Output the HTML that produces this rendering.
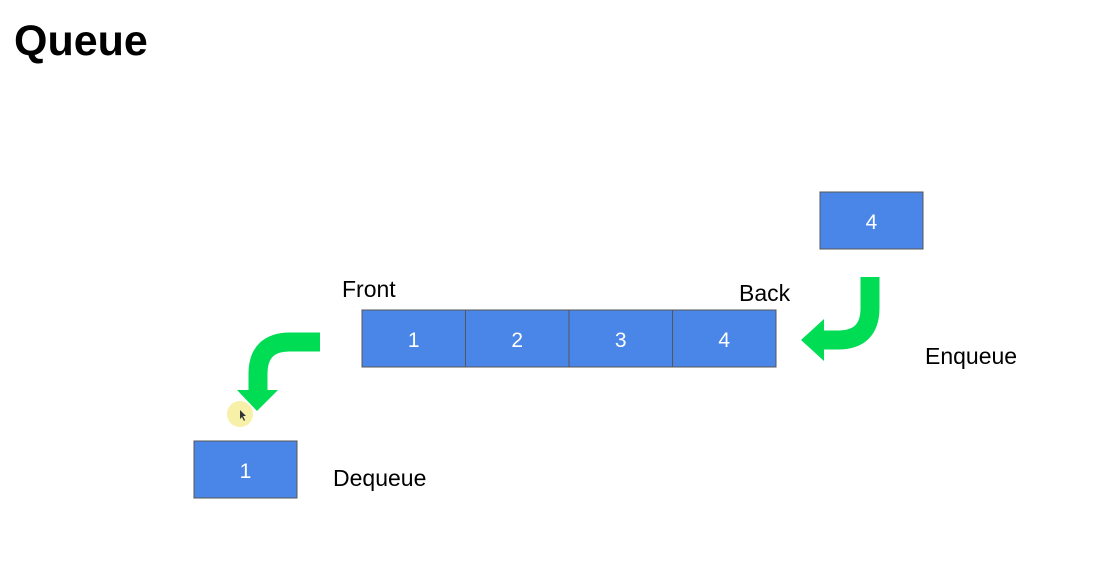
<!DOCTYPE html>
<html><head><style>
body{margin:0;width:1104px;height:583px;background:#fff;overflow:hidden;font-family:"Liberation Sans",sans-serif;}
</style></head><body>
<svg width="1104" height="583" xmlns="http://www.w3.org/2000/svg">
<text x="14" y="55" font-size="43" font-weight="bold" font-family="Liberation Sans">Queue</text>
<g font-family="Liberation Sans" font-size="21" fill="#fff" text-anchor="middle">
<g><rect x="362" y="310" width="103.5" height="57" fill="#4a86e8" stroke="#555"/><text x="413.75" y="347">1</text></g>
<g><rect x="465.5" y="310" width="103.5" height="57" fill="#4a86e8" stroke="#555"/><text x="517.25" y="347">2</text></g>
<g><rect x="569" y="310" width="103.5" height="57" fill="#4a86e8" stroke="#555"/><text x="620.75" y="347">3</text></g>
<g><rect x="672.5" y="310" width="103.5" height="57" fill="#4a86e8" stroke="#555"/><text x="724.25" y="347">4</text></g>
<g><rect x="820" y="192" width="103" height="57" fill="#4a86e8" stroke="#555"/><text x="871.5" y="229">4</text></g>
<g><rect x="194" y="441" width="103" height="57" fill="#4a86e8" stroke="#555"/><text x="245.5" y="478">1</text></g>
</g>
<g font-family="Liberation Sans" font-size="23" fill="#000">
<text x="342" y="297">Front</text>
<text x="739" y="301">Back</text>
<text x="925" y="364">Enqueue</text>
<text x="333" y="486">Dequeue</text>
</g>
<g>
<path d="M320 342 H290 Q258 342 258 374 V392" fill="none" stroke="#00dd55" stroke-width="19"/>
<polygon points="237,390 278,390 257,411" fill="#00dd55"/>
</g>
<g>
<path d="M870 277 V308 Q870 340 838 340 H822" fill="none" stroke="#00dd55" stroke-width="19"/>
<polygon points="824,319 824,361 801,340" fill="#00dd55"/>
</g>
<circle cx="240" cy="414" r="13" fill="#f7f0a8"/>
<polygon points="240,410 240,419 242,417 244,421 245,420 243,416 246,416" fill="#333"/>
</svg>
</body></html>
